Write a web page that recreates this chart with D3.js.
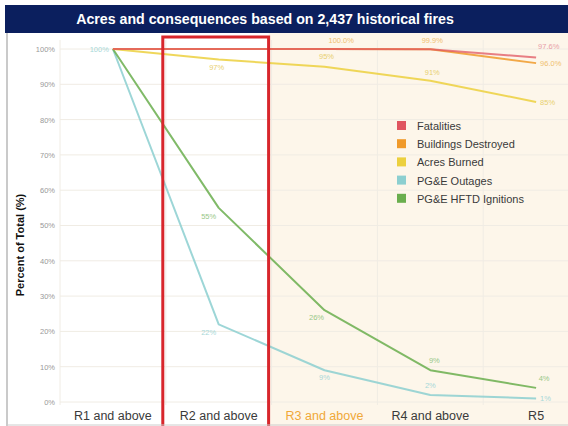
<!DOCTYPE html>
<html><head><meta charset="utf-8">
<script src="https://cdn.jsdelivr.net/npm/d3@7"></script>
<style>body{margin:0;background:#fff;}svg{display:block;font-family:"Liberation Sans",Arial,sans-serif;}</style>
</head><body><svg id="c" width="568" height="426"></svg>
<script>
const title = "Acres and consequences based on 2,437 historical fires";
const categories = ["R1 and above","R2 and above","R3 and above","R4 and above","R5"];
const seriesNames = ["Fatalities","Buildings Destroyed","Acres Burned","PG&E Outages","PG&E HFTD Ignitions"];
const fatalities = [100, 100, 100, 99.9, 97.6];
const buildings  = [100, 100, 100, 99.9, 96.0];
const acres      = [100, 97, 95, 91, 85];
const outages    = [100, 22, 9, 2, 1];
const ignitions  = [100, 55, 26, 9, 4];
const yTicks = [0,10,20,30,40,50,60,70,80,90,100];
// point labels: [category index, text]
const fatalitiesLabels = [[4,"97.6%"]];
const buildingsLabels  = [[2,"100.0%"],[3,"99.9%"],[4,"96.0%"]];
const acresLabels      = [[1,"97%"],[2,"95%"],[3,"91%"],[4,"85%"]];
const outagesLabels    = [[0,"100%"],[1,"22%"],[2,"9%"],[3,"2%"],[4,"1%"]];
const ignitionsLabels  = [[1,"55%"],[2,"26%"],[3,"9%"],[4,"4%"]];

const colors = ["#e05560","#f09a2a","#ecd03e","#8ccfd0","#6aae4e"];
const labelColors = ["#e8a0a8","#f0c070","#e8d070","#a8d8d8","#98c888"];
const seriesValues = [fatalities, buildings, acres, outages, ignitions];
const seriesLabels = [fatalitiesLabels, buildingsLabels, acresLabels, outagesLabels, ignitionsLabels];
// label offsets (layout) per series per category: [dx, dy, anchor]
const labelOffsets = [
  {4:[2,-8,"start"]},
  {2:[4,-6,"start"],3:[2,-6,"middle"],4:[4,3,"start"]},
  {1:[-2,10,"middle"],2:[2,-8,"middle"],3:[2,-6,"middle"],4:[4,3,"start"]},
  {0:[-4,3,"end"],1:[-10,11,"middle"],2:[0,10,"middle"],3:[0,-7,"middle"],4:[4,3,"start"]},
  {1:[-10,11,"middle"],2:[-8,10,"middle"],3:[4,-7,"middle"],4:[8,-7,"middle"]}
];

const svg = d3.select("#c");
const x = d3.scaleBand().domain(categories).range([60, 589]);
const cx = c => x(c) + x.bandwidth()/2;
const y = d3.scaleLinear().domain([0,100]).range([402, 49]);

// backgrounds
svg.append("rect").attr("x",0).attr("y",0).attr("width",568).attr("height",426).attr("fill","#fff");
svg.append("rect").attr("x", x(categories[2])-3).attr("y",33).attr("width",568-(x(categories[2])-3)).attr("height",393).attr("fill","#fdf6ea");

// frame
svg.append("line").attr("x1",7).attr("x2",7).attr("y1",33).attr("y2",426).attr("stroke","#b8b8b8").attr("stroke-width",1.5);

// gridlines
svg.append("g").selectAll("line").data(yTicks).join("line")
  .attr("x1",60).attr("x2",568).attr("y1",d=>y(d)).attr("y2",d=>y(d))
  .attr("stroke","#f0ece4").attr("stroke-width",1);
svg.append("g").selectAll("line").data(categories).join("line")
  .attr("x1",d=>x(d)).attr("x2",d=>x(d)).attr("y1",40).attr("y2",405)
  .attr("stroke","#f0ece4").attr("stroke-width",1);

// y axis ticks
const yAxis = d3.axisLeft(y).tickValues(yTicks).tickFormat(d=>d+"%").tickSize(0).tickPadding(0);
const ya = svg.append("g").attr("transform","translate(55,0)").call(yAxis);
ya.select(".domain").remove();
ya.selectAll("text").attr("fill","#999").attr("font-size","7.5px").attr("font-family","Liberation Sans, Arial, sans-serif");

svg.append("text").attr("transform","translate(24,245) rotate(-90)").attr("text-anchor","middle")
  .attr("font-size","11px").attr("font-weight","bold").attr("fill","#111").text("Percent of Total (%)");

// x axis labels
const xAxis = d3.axisBottom(x).tickSize(0).tickPadding(0);
const xa = svg.append("g").attr("transform","translate(0,411)").call(xAxis);
xa.select(".domain").remove();
xa.selectAll("text").attr("font-size","12.5px").attr("font-family","Liberation Sans, Arial, sans-serif")
  .attr("fill",(d,i)=> i===2 ? "#f0a838" : "#3a3a3a");

// lines
const line = d3.line().x((d,i)=>cx(categories[i])).y(d=>y(d));
const order = [3,4,2,1,0];
order.forEach(s=>{
  svg.append("path").datum(seriesValues[s]).attr("d",line).attr("fill","none")
    .attr("stroke",colors[s]).attr("stroke-width",2).attr("stroke-opacity", s===0?0.75:0.85).attr("stroke-linejoin","round");
});

// labels
seriesLabels.forEach((labs,s)=>{
  labs.forEach(([i,t])=>{
    const o = labelOffsets[s][i] || [0,-6,"middle"];
    svg.append("text").attr("x",cx(categories[i])+o[0]).attr("y",y(seriesValues[s][i])+o[1])
      .attr("text-anchor",o[2]).attr("font-size","7.5px").attr("fill",labelColors[s]).text(t);
  });
});

// red highlight box
svg.append("rect").attr("x",x(categories[1])-3).attr("y",37).attr("width",x.bandwidth()).attr("height",395)
  .attr("fill","none").attr("stroke","#d8262c").attr("stroke-width",3);

// bottom line
svg.append("line").attr("x1",7).attr("x2",568).attr("y1",425).attr("y2",425).attr("stroke","#ccc");

// title bar
svg.append("rect").attr("x",5).attr("y",5).attr("width",563).attr("height",28).attr("fill","#0b1f5e");
svg.append("text").attr("x",265).attr("y",24).attr("text-anchor","middle").attr("fill","#fff")
  .attr("font-size","14.2px").attr("font-weight","bold").text(title);

// legend
const lg = svg.append("g").attr("transform","translate(397,126)");
seriesNames.forEach((n,i)=>{
  const g = lg.append("g").attr("transform",`translate(0,${i*18.2})`);
  g.append("rect").attr("x",0).attr("y",-5).attr("width",9).attr("height",9).attr("fill",colors[i]);
  g.append("text").attr("x",20).attr("y",4).attr("font-size","11px").attr("fill","#3a3a3a").text(n);
});
</script></body></html>
